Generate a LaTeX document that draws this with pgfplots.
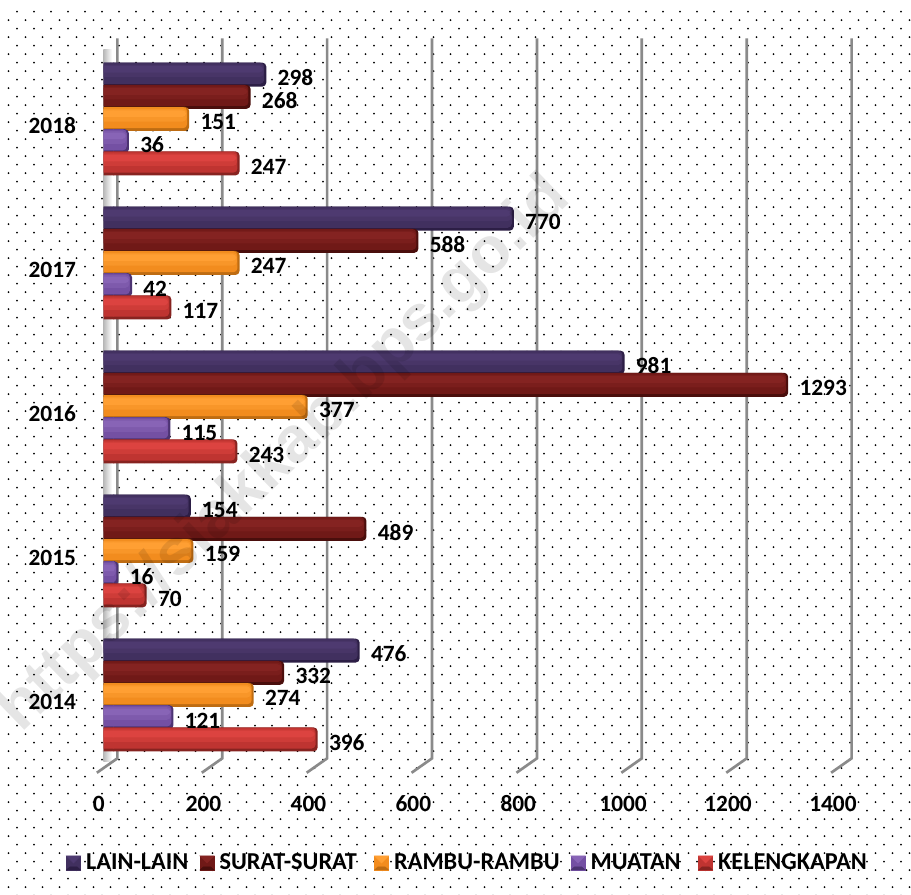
\documentclass[border=0pt]{standalone}
\usepackage{fontspec}
\setmainfont{Carlito}
\newfontfamily\wmfont{Liberation Sans}
\usepackage{pgfplots}
\usepackage{pgfplotstable}
\pgfplotsset{compat=1.18}

% reference is 911x895, 1px = 0.75pt

\pgfplotstableread{
y lain surat rambu muatan lengkap
0 476 332 274 121 396
1 154 489 159 16 70
2 981 1293 377 115 243
3 770 588 247 42 117
4 298 268 151 36 247
}\datatable

\definecolor{gridgray}{HTML}{8A8A8A}
\definecolor{lainE}{HTML}{2C1E45}\definecolor{lainM}{HTML}{41305F}\definecolor{lainH}{HTML}{4E3A70}
\definecolor{suraE}{HTML}{4A0E0C}\definecolor{suraM}{HTML}{701917}\definecolor{suraH}{HTML}{842321}
\definecolor{ramE}{HTML}{BE6C12}\definecolor{ramM}{HTML}{F28C1E}\definecolor{ramH}{HTML}{FF9F33}
\definecolor{muaE}{HTML}{4C3372}\definecolor{muaM}{HTML}{7450A3}\definecolor{muaH}{HTML}{8864B6}
\definecolor{kelE}{HTML}{872320}\definecolor{kelM}{HTML}{BF3431}\definecolor{kelH}{HTML}{DC4340}

\newcommand{\labfont}{\fontsize{17.5}{17.5}\selectfont\bfseries}

% one layer of a bevelled bar: rounded at the value end, square at the base
\newcommand{\barlayer}[5]{%
  \addplot[xbar, forget plot, bar width=#3pt, bar shift=#2pt, draw=none, fill=#4, rounded corners=3pt]
    table[x expr=\thisrow{#1}-#5, y=y] {\datatable};
  \addplot[xbar, forget plot, bar width=#3pt, bar shift=#2pt, draw=none, fill=#4] table[x expr=8, y=y] {\datatable};
  \addplot[xbar, forget plot, bar width=#3pt, bar shift=#2pt, draw=none, fill=#4] table[x expr=-12, y=y] {\datatable};
}
\newcommand{\series}[3]{%
  \barlayer{#1}{#2}{18}{#3E}{0}
  \barlayer{#1}{\fpeval{#2+1.0}}{15.8}{#3M}{4}
  \barlayer{#1}{\fpeval{#2+2.8}}{9.5}{#3M!50!#3H}{5}
  \barlayer{#1}{\fpeval{#2+4.0}}{5}{#3H}{6}
}
\newcommand{\vallabels}[2]{%
  \addplot[xbar, forget plot, bar width=0pt, draw=none, fill=none, point meta=x,
    nodes near coords, nodes near coords style={anchor=west, xshift=5pt, yshift=#2pt-2.5pt,
      font=\labfont, text=black}]
    table[x=#1, y=y] {\datatable};
}
\newcommand{\lgd}[3]{%
  \addlegendimage{legend image code/.code={
    \fill[#1M] (0pt,-5.25pt) rectangle (10.5pt,5.25pt);
    \fill[#1H] (0pt,5.25pt) -- (10.5pt,5.25pt) -- (5.25pt,0pt) -- cycle;
    \fill[#1E] (0pt,-5.25pt) -- (10.5pt,-5.25pt) -- (8pt,-3pt) -- (2.5pt,-3pt) -- cycle;
  }}
  \addlegendentry{\hspace{4pt}\makebox[#3pt][l]{#2}}
}

\begin{document}
\begin{tikzpicture}
\path[use as bounding box] (0,0) rectangle (683.25pt,671.25pt);
\fill[white] (0,0) rectangle (683.25pt,671.25pt);
% background dots, one row at a time
\foreach \k in {0,...,104} {
  \pgfmathsetmacro{\rowy}{671.25 - 0.75*(11.7 + 8.5*\k)}
  \pgfmathsetmacro{\rowx}{mod(\k,2)==0 ? 12.75 : 6.375}
  \fill[black] \foreach \m in {0,...,53} {
    ({\m*12.75pt + \rowx pt}, \rowy pt) circle (0.75pt)
  };
}
\shade[left color=gray!55, right color=white] (77.5pt,{671.25pt-0.75*50pt}) rectangle (84pt,{671.25pt-0.75*762pt});

\begin{axis}[
  at={(82.5pt,96pt)}, anchor=south west,
  scale only axis, width=550.7pt, height=540pt,
  xmin=0, xmax=1400, ymin=-0.5, ymax=4.5,
  clip=false,
  axis line style={draw=none},
  tick style={draw=none},
  xtick={0,200,...,1400},
  ytick={0,1,2,3,4},
  yticklabels={2014,2015,2016,2017,2018},
  /pgf/number format/assume math mode=true,
  /pgf/number format/1000 sep={},
  tick label style={font=\labfont},
  xticklabel style={xshift=-8.5pt, yshift=-18pt},
  yticklabel style={xshift=-22pt, yshift=-5pt},
  legend columns=-1,
  legend style={draw=none, fill=none, at={(-0.06,-0.1333)}, anchor=west, inner sep=0pt,
    font=\fontsize{18.2}{18.2}\selectfont\bfseries, nodes={inner sep=0pt},
    /tikz/every even column/.append style={column sep=0pt}},
]
% gridlines on the back wall with their foot towards the floor
\addplot[forget plot, color=gridgray, line width=2pt] coordinates {(14,4.56)(14,-0.44)(-25,-0.54)};
\addplot[forget plot, color=gridgray, line width=2pt] coordinates {(214,4.56)(214,-0.44)(175,-0.54)};
\addplot[forget plot, color=gridgray, line width=2pt] coordinates {(414,4.56)(414,-0.44)(375,-0.54)};
\addplot[forget plot, color=gridgray, line width=2pt] coordinates {(614,4.56)(614,-0.44)(575,-0.54)};
\addplot[forget plot, color=gridgray, line width=2pt] coordinates {(814,4.56)(814,-0.44)(775,-0.54)};
\addplot[forget plot, color=gridgray, line width=2pt] coordinates {(1014,4.56)(1014,-0.44)(975,-0.54)};
\addplot[forget plot, color=gridgray, line width=2pt] coordinates {(1214,4.56)(1214,-0.44)(1175,-0.54)};
\addplot[forget plot, color=gridgray, line width=2pt] coordinates {(1414,4.56)(1414,-0.44)(1375,-0.54)};

\series{lain}{33.3}{lain}
\series{surat}{16.65}{sura}
\series{rambu}{0}{ram}
\series{muatan}{-16.65}{mua}
\series{lengkap}{-33.3}{kel}

\vallabels{lain}{33.3}
\vallabels{surat}{16.65}
\vallabels{rambu}{0}
\vallabels{muatan}{-16.65}
\vallabels{lengkap}{-33.3}

\lgd{lain}{LAIN-LAIN}{85.25}
\lgd{sura}{SURAT-SURAT}{116}
\lgd{ram}{RAMBU-RAMBU}{132.5}
\lgd{mua}{MUATAN}{80.75}
\lgd{kel}{KELENGKAPAN}{112}
\end{axis}

% watermark lies over everything
\node[rotate=44, opacity=0.1, font=\wmfont\fontsize{49}{49}\selectfont\bfseries, text=black, inner sep=0pt]
  at ({0.75pt*285},{671.25pt-0.75pt*455}) {https://siakkab.bps.go.id};
\end{tikzpicture}
\end{document}
